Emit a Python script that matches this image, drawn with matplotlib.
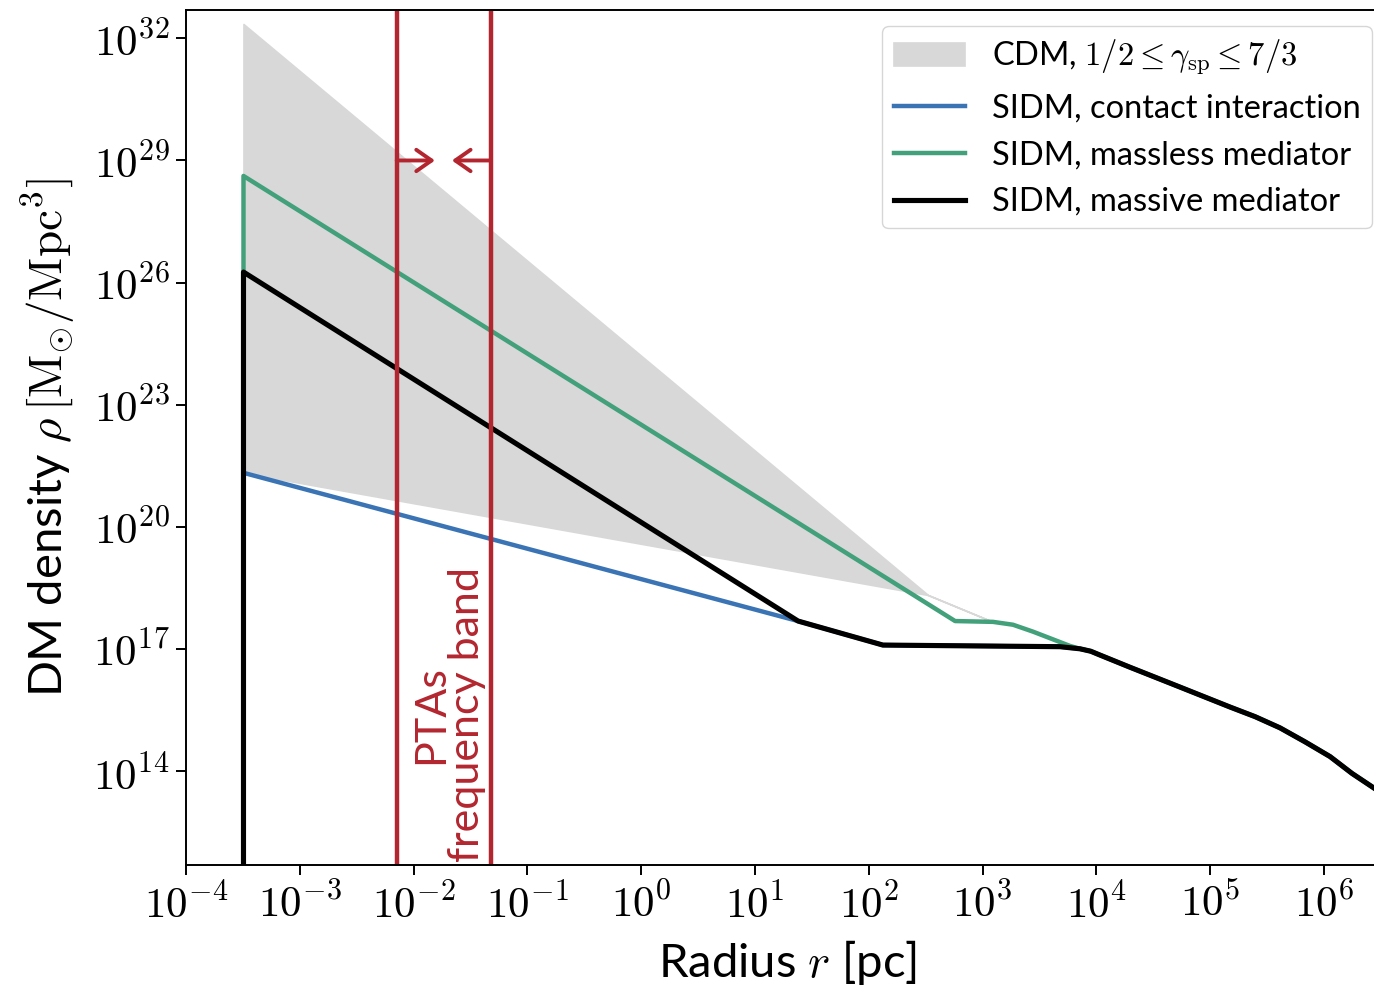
import numpy as np
import matplotlib.pyplot as plt
from matplotlib.ticker import FuncFormatter, NullLocator

plt.rcParams['font.family'] = ['Lato', 'DejaVu Sans']
plt.rcParams['mathtext.fontset'] = 'cm'

# radii in pc, densities in Msun/Mpc^3 (power-law vertices of each profile)
r_min = 3.2e-4          # inner cut-off, density drops to zero below it
rho_floor = 1e10        # stands in for zero on the log axis

# outer halo shared by the SIDM profiles beyond the spike
r_out = [23.9, 133, 4.79e3, 7.18e3, 8.91e3, 1.07e4, 1.97e4, 5.43e4, 1.49e5,
         2.48e5, 4.10e5, 6.81e5, 1.13e6, 1.76e6, 3.1e6, 3.98e6]
rho_out = [4.9e17, 1.26e17, 1.15e17, 1.02e17, 8.9e16, 7.2e16, 3.6e16, 1.17e16, 3.8e15,
           2.2e15, 1.17e15, 5.3e14, 2.3e14, 8.9e13, 3.1e13, 1.9e13]

# contact interaction, gamma = 3/4
r_contact = [r_min, r_min] + r_out
rho_contact = [rho_floor, 2.14e21] + rho_out

# massless mediator, gamma = 7/4
r_massless = [r_min, r_min, 573, 1233, 1849, 2773, 5861] + r_out[3:]
rho_massless = [rho_floor, 4.17e28, 4.9e17, 4.68e17, 3.98e17, 2.69e17, 1.2e17] + rho_out[3:]

# massive mediator
r_massive = [r_min, r_min] + r_out
rho_massive = [rho_floor, 1.82e26] + rho_out

# CDM spike band between gamma_sp = 7/3 (upper) and 1/2 (lower)
r_band = [r_min, 331] + r_massless[3:]
rho_band_hi = [2.24e32, 2.14e18] + rho_massless[3:]
rho_band_lo = [2.14e21, 2.14e18] + rho_massless[3:]

# PTA sensitivity band edges [pc] and arrow tips
pta_edges = [7.1e-3, 4.8e-2]
pta_tips = [1.54e-2, 2.17e-2]
arrow_rho = 1e29

c_red = '#b3262f'
c_blue = '#3a74b4'
c_green = '#42a07a'
c_band = '#d8d8d8'
lw = 3.2

fig = plt.figure(figsize=(13.74, 9.93), dpi=100)
ax = fig.add_axes([186/1374, 128/993, 1202/1374, 855/993])

ax.fill_between(r_band, rho_band_lo, rho_band_hi, color=c_band, lw=1.2,
                label=r'CDM, $1/2 \leq \gamma_{\rm sp} \leq 7/3$')
ax.plot(r_contact, rho_contact, color=c_blue, lw=lw, label='SIDM, contact interaction')
ax.plot(r_massless, rho_massless, color=c_green, lw=lw, label='SIDM, massless mediator')
ax.plot(r_massive, rho_massive, color='black', lw=lw + 0.5, label='SIDM, massive mediator')

for r in pta_edges:
    ax.axvline(r, color=c_red, lw=lw)
for r0, r1 in zip(pta_edges, pta_tips):
    ax.annotate('', xy=(r1, arrow_rho), xytext=(r0, arrow_rho),
                arrowprops=dict(arrowstyle='->,head_length=0.5,head_width=0.35',
                                color=c_red, lw=2.8, mutation_scale=22,
                                shrinkA=0, shrinkB=0))
ax.text(2.05e-2, 10**11.78, 'PTAs\nfrequency band', rotation=90, color=c_red,
        fontsize=31, ha='center', va='bottom', multialignment='center',
        linespacing=0.95)

ax.set_xscale('log')
ax.set_yscale('log')
ax.set_xlim(1e-4, 10**6.562)
ax.set_ylim(10**11.70, 10**32.695)
ax.set_xticks(10.0**np.arange(-4, 7))
ax.set_yticks(10.0**np.arange(14, 33, 3))
ax.xaxis.set_minor_locator(NullLocator())
ax.yaxis.set_minor_locator(NullLocator())
fmt = FuncFormatter(lambda v, _: r'$10^{%d}$' % int(round(np.log10(v))))
ax.xaxis.set_major_formatter(fmt)
ax.yaxis.set_major_formatter(fmt)
ax.tick_params(direction='out', length=7, width=1.4, labelsize=31, pad=5)
for s in ax.spines.values():
    s.set_linewidth(1.4)

ax.set_xlabel(r'Radius $r$ [pc]', fontsize=34, labelpad=10)
ax.set_ylabel(r'DM density $\rho\,[\mathrm{M}_{\odot}/\mathrm{Mpc}^3]$', fontsize=34, labelpad=11)

ax.legend(loc='upper right', fontsize=23.5, handlelength=2.2, handletextpad=0.8,
          labelspacing=0.51, borderaxespad=0.5, borderpad=0.35)

plt.savefig('out.png', dpi=100)
